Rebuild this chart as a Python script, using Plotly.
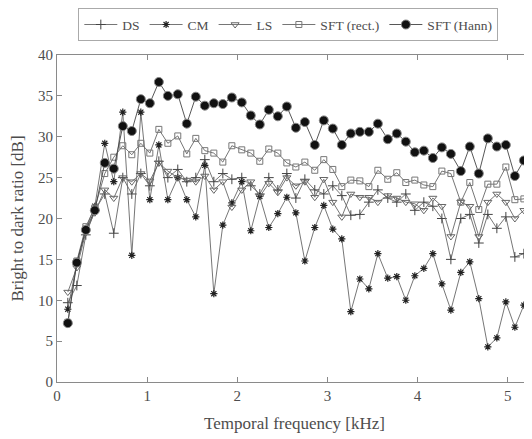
import plotly.graph_objects as go

# Temporal frequency [kHz]
freq = [0.12, 0.22, 0.32, 0.42, 0.53, 0.63, 0.73, 0.83, 0.93, 1.03,
        1.13, 1.23, 1.34, 1.44, 1.54, 1.64, 1.74, 1.84, 1.94, 2.05,
        2.15, 2.25, 2.35, 2.45, 2.55, 2.65, 2.75, 2.86, 2.96, 3.06,
        3.16, 3.26, 3.36, 3.46, 3.56, 3.67, 3.77, 3.87, 3.97, 4.07,
        4.17, 4.27, 4.37, 4.48, 4.58, 4.68, 4.78, 4.88, 4.98, 5.08,
        5.18, 5.29]

ds = [9.7, 11.8, 18.0, 21.0, 23.0, 18.2, 25.0, 23.0, 25.5, 24.0,
      27.0, 25.0, 26.0, 24.5, 25.0, 27.2, 24.5, 25.5, 24.8, 25.0,
      24.0, 23.0, 25.0, 23.5, 25.5, 22.5, 24.8, 23.5, 23.0, 24.0,
      22.8, 20.4, 20.5, 22.0, 23.5, 22.5, 22.0, 23.0, 21.0, 22.0,
      21.5, 20.0, 15.0, 20.0, 20.5, 17.0, 20.5, 18.8, 20.2, 15.3,
      15.7, 16.0]

cm = [8.9, 14.5, 18.8, 21.5, 29.2, 24.5, 33.0, 15.5, 33.0, 22.3,
      29.0, 22.3, 25.0, 22.3, 20.2, 26.5, 10.8, 19.2, 21.9, 24.5,
      18.5, 22.7, 18.9, 20.6, 22.6, 20.7, 14.8, 18.9, 21.6, 18.7,
      17.5, 8.6, 12.6, 11.4, 15.7, 12.7, 12.9, 10.0, 13.0, 13.9,
      15.7, 12.0, 8.8, 13.4, 14.7, 10.2, 4.3, 5.4, 9.8, 6.7,
      9.4, 9.6]

ls = [11.0, 14.0, 18.3, 20.7, 23.5, 22.5, 25.0, 24.5, 25.5, 24.6,
      26.8, 25.8, 25.0, 24.7, 24.5, 25.2, 23.5, 24.5, 21.4, 23.5,
      24.5, 22.7, 24.3, 23.2, 25.0, 24.0, 24.5, 22.6, 24.8, 22.0,
      20.2, 23.0, 22.6, 22.6, 22.0, 22.8, 22.5, 22.0, 21.8, 21.0,
      22.5, 21.5, 17.8, 22.0, 21.5, 17.8, 22.0, 23.0, 22.0, 20.0,
      21.0, 20.0]

sft_rect = [7.3, 14.8, 19.0, 21.3, 25.5, 27.5, 28.9, 27.8, 29.2, 28.0,
            30.9, 29.2, 30.1, 27.9, 29.8, 28.3, 28.0, 26.9, 28.9, 28.4,
            28.0, 27.0, 28.5, 28.0, 26.8, 26.3, 26.9, 25.9, 27.2, 26.0,
            23.9, 24.7, 24.6, 23.9, 25.9, 24.8, 25.6, 24.4, 24.7, 24.1,
            23.9, 25.8, 25.5, 22.0, 24.4, 21.1, 24.2, 24.2, 26.3, 22.3,
            22.4, 24.0]

sft_hann = [7.2, 14.6, 18.6, 21.0, 26.8, 26.1, 31.3, 30.7, 34.6, 34.1,
            36.7, 35.0, 35.2, 31.6, 34.9, 33.8, 34.1, 34.0, 34.8, 34.2,
            32.6, 31.5, 33.3, 32.5, 33.7, 31.1, 31.8, 29.0, 32.0, 31.0,
            29.0, 30.4, 30.6, 30.6, 31.6, 29.7, 30.4, 29.4, 28.1, 28.3,
            27.4, 28.7, 27.9, 25.8, 28.8, 25.5, 29.8, 28.8, 29.0, 25.2,
            27.1, 29.2]

x_ticks = [0, 1, 2, 3, 4, 5]
y_ticks = [0, 5, 10, 15, 20, 25, 30, 35, 40]

FONT = "Liberation Serif"
TXT = "#4d4d4d"
LINE = "#8a8a8a"

fig = go.Figure()

series = [
    ("DS", ds, dict(symbol="cross-thin-open", size=7, color="#444",
                    line=dict(width=1, color="#444"))),
    ("CM", cm, dict(symbol="asterisk-open", size=6, color="#222",
                    line=dict(width=1.2, color="#222"))),
    ("LS", ls, dict(symbol="triangle-down-open", size=7, color="#666",
                    line=dict(width=1, color="#666"))),
    ("SFT (rect.)", sft_rect, dict(symbol="square-open", size=6, color="#777",
                                   line=dict(width=1, color="#777"))),
    ("SFT (Hann)", sft_hann, dict(symbol="circle", size=9, color="#111",
                                  line=dict(width=1, color="#888"))),
]

for name, vals, mk in series:
    fig.add_trace(go.Scatter(
        x=freq, y=vals, name=name, mode="lines+markers",
        line=dict(color="#666" if name != "SFT (Hann)" else "#444", width=0.9),
        marker=mk,
    ))

axis_common = dict(
    showline=True, linecolor=LINE, linewidth=1, mirror="ticks",
    ticks="inside", ticklen=5, tickcolor=LINE,
    showgrid=False, zeroline=False, automargin=False,
    tickfont=dict(family=FONT, size=15, color=TXT),
)

# page body has an 8px default margin; figure sized to fit the window
fig.update_layout(
    width=524, height=431,
    margin=dict(l=49, r=0, t=47, b=57, autoexpand=False),
    paper_bgcolor="white", plot_bgcolor="white",
    font=dict(family=FONT, color=TXT),
    xaxis=dict(range=[0, 5.27], tickvals=x_ticks,
               title=dict(text="Temporal frequency [kHz]",
                          font=dict(family=FONT, size=17, color=TXT),
                          standoff=14),
               **axis_common),
    yaxis=dict(range=[0, 40], tickvals=y_ticks,
               title=dict(text="Bright to dark ratio [dB]",
                          font=dict(family=FONT, size=17, color=TXT),
                          standoff=12),
               **axis_common),
    legend=dict(orientation="h", x=0.487, xanchor="center",
                y=1.143, yanchor="top",
                bordercolor="#aaa", borderwidth=1,
                font=dict(family=FONT, size=13.5, color=TXT),
                itemwidth=33, tracegroupgap=0),
    showlegend=True,
)

fig.write_html("out.html")
